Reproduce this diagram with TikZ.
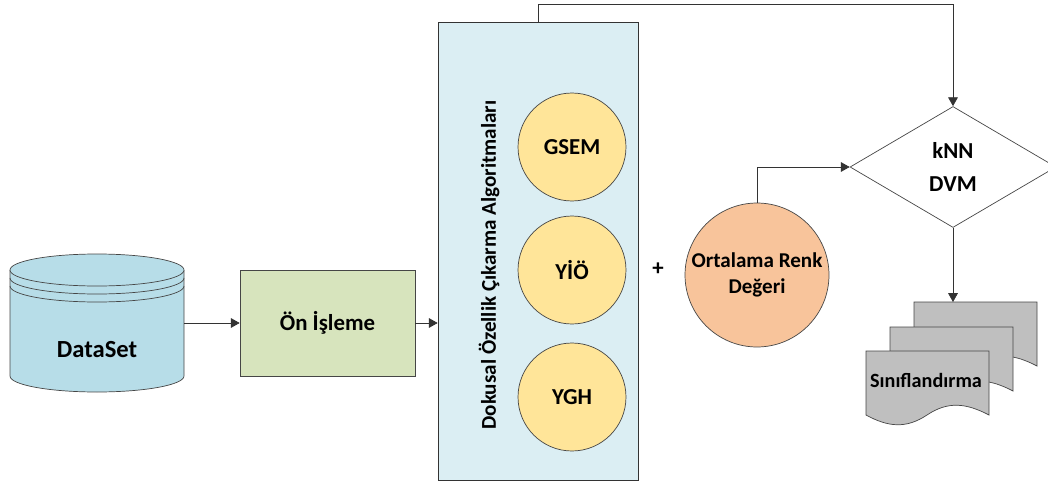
\documentclass[tikz,border=0pt]{standalone}
\usepackage{fontspec}
\setmainfont{Carlito}
\usepackage{tikz}
\usepackage{xcolor}
\usetikzlibrary{arrows.meta,positioning,calc,shapes.geometric}
\definecolor{CylBlue}{RGB}{183,221,232}
\definecolor{PrepGreen}{RGB}{215,228,189}
\definecolor{BoxBlue}{RGB}{219,238,243}
\definecolor{AlgoYellow}{RGB}{255,229,153}
\definecolor{RenkOrange}{RGB}{248,196,155}
\definecolor{DocGray}{RGB}{191,191,191}
\definecolor{LineGray}{RGB}{70,70,70}

\newcommand\docpage[1]{%
  \begin{scope}[shift={#1}]
    \draw[docstyle] (0,0) -- (123,0) -- (123,-64)
      .. controls (100,-52) and (82,-50) .. (61,-64)
      .. controls (40,-78) and (22,-76) .. (0,-64) -- cycle;
  \end{scope}}

\begin{document}
\begin{tikzpicture}[x=0.02cm, y=0.02cm,
  every node/.style={font=\fontsize{13}{15}\selectfont\bfseries},
  conn/.style={draw=black!80, -{Triangle[length=5pt, width=5.5pt]}},
  docstyle/.style={draw=LineGray, fill=DocGray},
  algcircle/.style={circle, draw=LineGray, fill=AlgoYellow, minimum size=2.16cm, inner sep=0pt}]
\useasboundingbox (0,0) rectangle (1048,-483);

% veri kumesi
\draw[draw=LineGray, fill=CylBlue] (10,-270) -- (10,-376) arc[start angle=180, end angle=360, x radius=87, y radius=16] -- (184,-270);
\draw[draw=LineGray, fill=CylBlue] (97,-270) ellipse [x radius=87, y radius=16];
\draw[draw=LineGray] (10,-278) arc[start angle=180, end angle=360, x radius=87, y radius=16];
\draw[draw=LineGray] (10,-286) arc[start angle=180, end angle=360, x radius=87, y radius=16];
\node[inner sep=0pt, minimum width=3.48cm, minimum height=2.12cm] (data) at (97,-323) {};
\node[font=\fontsize{14}{16}\selectfont\bfseries] (datalbl) at (97,-350) {DataSet};

\node[draw=LineGray, fill=PrepGreen, minimum width=3.5cm, minimum height=2.12cm] (onis) at (327.5,-323) {Ön İşleme};

% algoritmalar
\node[draw=black!80, fill=BoxBlue, minimum width=4cm, minimum height=9.16cm, inner sep=0pt] (algo) at (538,-251) {};
\node[rotate=90, font=\fontsize{12}{14}\selectfont\bfseries] (algolbl) at (489,-265) {Dokusal Özellik Çıkarma Algoritmaları};
\node[algcircle] (gsem) at (572,-147) {GSEM};
\node[algcircle] (yio) at (572,-270) {YİÖ};
\node[algcircle] (ygh) at (572,-397) {YGH};

\node (plus) at (658,-269) {+};
\node[circle, draw=LineGray, fill=RenkOrange, minimum size=2.88cm, inner sep=0pt, align=center,
      font=\fontsize{12}{15}\selectfont\bfseries] (renk) at (757,-275) {Ortalama Renk\\Değeri};

% siniflandirici
\node[diamond, draw=LineGray, fill=white, minimum width=4.12cm, minimum height=2.42cm, inner sep=0pt, align=center,
      font=\fontsize{13}{19}\selectfont\bfseries] (dvm) at (953,-167) {kNN\\DVM};

% cikti
\docpage{(914,-302)}
\docpage{(890,-327)}
\docpage{(866,-351)}
\node[font=\fontsize{11.5}{14}\selectfont\bfseries] (sinif) at (926,-380) {Sınıflandırma};
\coordinate (docin) at (953,-302);

\draw[conn] (data.east) -- (onis.west);
\draw[conn] (onis.east) -- (onis.east -| algo.west);
\draw[conn] (algo.north) -- ++(0,17) -| (dvm.north);
\draw[conn] (renk.north) |- (dvm.west);
\draw[conn] (dvm.south) -- (docin);
\end{tikzpicture}
\end{document}
